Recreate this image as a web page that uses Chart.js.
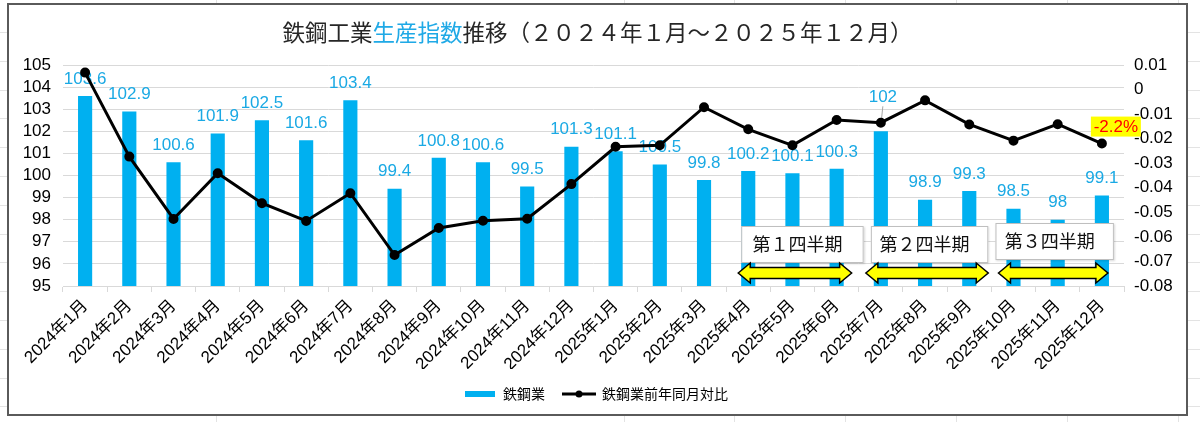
<!DOCTYPE html>
<html lang="ja">
<head>
<meta charset="utf-8">
<title>鉄鋼工業生産指数推移</title>
<script src="https://cdn.jsdelivr.net/npm/chart.js@4.4.1/dist/chart.umd.min.js"></script>
<style>
  html, body { margin: 0; padding: 0; background: #fff; }
  #wrap { position: relative; width: 1200px; height: 422px; }
</style>
</head>
<body>
<div id="wrap"><canvas id="steelChart" width="1200" height="422"></canvas></div>
<script>
// data
const months = [
  '2024年1月', '2024年2月', '2024年3月', '2024年4月', '2024年5月', '2024年6月',
  '2024年7月', '2024年8月', '2024年9月', '2024年10月', '2024年11月', '2024年12月',
  '2025年1月', '2025年2月', '2025年3月', '2025年4月', '2025年5月', '2025年6月',
  '2025年7月', '2025年8月', '2025年9月', '2025年10月', '2025年11月', '2025年12月'
];
const steelIndex = [
  103.6, 102.9, 100.6, 101.9, 102.5, 101.6, 103.4, 99.4, 100.8, 100.6, 99.5, 101.3,
  101.1, 100.5, 99.8, 100.2, 100.1, 100.3, 102, 98.9, 99.3, 98.5, 98, 99.1
];
const yoyChange = [
  0.0069, -0.0273, -0.0527, -0.0341, -0.0463, -0.0535, -0.0422, -0.0674, -0.0564, -0.0534, -0.0526, -0.0385,
  -0.0233, -0.0227, -0.0072, -0.0162, -0.0227, -0.0124, -0.0135, -0.0044, -0.0142, -0.0208, -0.0141, -0.022
];
const quarterLabels = ['第１四半期', '第２四半期', '第３四半期'];
const quarterFirst = ['2025年4月', '2025年7月', '2025年10月'];
const quarterLast = ['2025年6月', '2025年9月', '2025年12月'];
const titleParts = ['鉄鋼工業', '生産指数', '推移（２０２４年１月～２０２５年１２月）'];
const seriesNames = ['鉄鋼業', '鉄鋼業前年同月対比'];

const BAR_BLUE = '#00b0f0';
const LABEL_BLUE = '#1aa9e4';
const GRID = '#d9d9d9';
const NUM_FONT = '"Liberation Sans", Arial, sans-serif';
const JP_FONT = '"Noto Sans CJK JP", "Noto Sans", sans-serif';

Chart.defaults.font.family = '"Liberation Sans", "Noto Sans CJK JP", sans-serif';
Chart.defaults.color = '#1a1a1a';

// frame of the chart object plus the faint spreadsheet cells behind it
const FRAME = { left: 8, top: 4, right: 1187, bottom: 415 };

const sheetPlugin = {
  id: 'sheet',
  beforeDraw(chart) {
    const ctx = chart.ctx;
    ctx.save();
    ctx.fillStyle = '#fff';
    ctx.fillRect(0, 0, chart.width, chart.height);
    ctx.strokeStyle = '#e3e3e3';
    ctx.lineWidth = 1;
    [216, 624, 734, 845, 956, 1067, 1178].forEach(x => {
      ctx.beginPath(); ctx.moveTo(x + 0.5, 0); ctx.lineTo(x + 0.5, chart.height); ctx.stroke();
    });
    for (let y = 32; y < chart.height; y += 28.8) {
      ctx.beginPath(); ctx.moveTo(0, Math.round(y) + 0.5); ctx.lineTo(chart.width, Math.round(y) + 0.5); ctx.stroke();
    }
    ctx.fillStyle = '#fff';
    ctx.fillRect(FRAME.left, FRAME.top, FRAME.right - FRAME.left, FRAME.bottom - FRAME.top);
    ctx.strokeStyle = '#5a5a5a';
    ctx.lineWidth = 2;
    ctx.strokeRect(FRAME.left, FRAME.top, FRAME.right - FRAME.left, FRAME.bottom - FRAME.top);

    // title, the middle part in blue
    ctx.font = '22.5px ' + JP_FONT;
    ctx.textBaseline = 'middle';
    ctx.textAlign = 'left';
    const colors = ['#262626', '#1fa9e6', '#262626'];
    const total = titleParts.reduce((w, t) => w + ctx.measureText(t).width, 0);
    let x = (FRAME.left + FRAME.right) / 2 - total / 2;
    titleParts.forEach((t, i) => {
      ctx.fillStyle = colors[i];
      ctx.fillText(t, x, 32);
      x += ctx.measureText(t).width;
    });
    ctx.restore();
  }
};

// value labels above the bars, drawn before the line so the line crosses them
const barLabelPlugin = {
  id: 'barLabels',
  afterDatasetDraw(chart, args) {
    if (args.meta.type !== 'bar') return;
    const ctx = chart.ctx;
    ctx.save();
    ctx.font = '17px ' + NUM_FONT;
    ctx.fillStyle = LABEL_BLUE;
    ctx.textAlign = 'center';
    ctx.textBaseline = 'middle';
    args.meta.data.forEach((bar, i) => {
      const lifted = i === 18;
      const y = bar.y - (lifted ? 34 : 17);
      ctx.fillText(String(steelIndex[i]), bar.x + (lifted ? 2 : 0), y);
      if (lifted) {
        ctx.strokeStyle = '#a6a6a6';
        ctx.lineWidth = 1;
        ctx.beginPath();
        ctx.moveTo(bar.x + 2, y + 9);
        ctx.lineTo(bar.x, bar.y - 6);
        ctx.stroke();
      }
    });
    ctx.restore();
  }
};

function doubleArrow(ctx, x0, x1, cy) {
  const hl = 12, hh = 10, sh = 5.5;
  ctx.beginPath();
  ctx.moveTo(x0, cy);
  ctx.lineTo(x0 + hl, cy - hh);
  ctx.lineTo(x0 + hl, cy - sh);
  ctx.lineTo(x1 - hl, cy - sh);
  ctx.lineTo(x1 - hl, cy - hh);
  ctx.lineTo(x1, cy);
  ctx.lineTo(x1 - hl, cy + hh);
  ctx.lineTo(x1 - hl, cy + sh);
  ctx.lineTo(x0 + hl, cy + sh);
  ctx.lineTo(x0 + hl, cy + hh);
  ctx.closePath();
  ctx.fillStyle = '#ffff00';
  ctx.fill();
  ctx.strokeStyle = '#000';
  ctx.lineWidth = 1.5;
  ctx.stroke();
}

// quarter boxes with arrows, and the callout on the last point
const notePlugin = {
  id: 'notes',
  afterDatasetsDraw(chart) {
    const ctx = chart.ctx;
    const xs = chart.scales.x;
    const bottom = chart.chartArea.bottom;
    const boxPad = [[-7, 27], [-10, 19], [-18, 12]];
    const boxLift = [0, 0, 3];
    const arrowPad = [[-10, 15], [-15, 19], [-15, 6]];
    ctx.save();
    quarterLabels.forEach((label, k) => {
      const a = xs.getPixelForValue(months.indexOf(quarterFirst[k]));
      const b = xs.getPixelForValue(months.indexOf(quarterLast[k]));
      const bx0 = a + boxPad[k][0], bx1 = b + boxPad[k][1];
      const by1 = bottom - 23 - boxLift[k], by0 = by1 - 37;
      ctx.shadowColor = 'rgba(0,0,0,0.15)';
      ctx.shadowOffsetX = 1;
      ctx.shadowOffsetY = 1;
      ctx.shadowBlur = 2;
      ctx.fillStyle = '#fff';
      ctx.fillRect(bx0, by0, bx1 - bx0, by1 - by0);
      ctx.shadowColor = 'transparent';
      ctx.strokeStyle = '#bfbfbf';
      ctx.lineWidth = 1;
      ctx.strokeRect(bx0 + 0.5, by0 + 0.5, bx1 - bx0 - 1, by1 - by0 - 1);
      ctx.fillStyle = '#111';
      ctx.font = '18px ' + JP_FONT;
      ctx.textAlign = 'center';
      ctx.textBaseline = 'middle';
      ctx.fillText(label, (bx0 + bx1) / 2 - 5, (by0 + by1) / 2);
      doubleArrow(ctx, a + arrowPad[k][0], b + arrowPad[k][1], bottom - 13);
    });

    const lineMeta = chart.getDatasetMeta(1);
    const last = lineMeta.data[lineMeta.data.length - 1];
    const cx = last.x + 14, cy = last.y - 17;
    ctx.fillStyle = '#ffff00';
    ctx.fillRect(cx - 25, cy - 10, 50, 20);
    ctx.fillStyle = '#ff0000';
    ctx.font = '17px ' + NUM_FONT;
    ctx.textAlign = 'center';
    ctx.textBaseline = 'middle';
    ctx.fillText((yoyChange[yoyChange.length - 1] * 100).toFixed(1) + '%', cx, cy + 1);
    ctx.restore();
  }
};

function swatch(kind) {
  const c = document.createElement('canvas');
  c.width = kind === 'bar' ? 30 : 34;
  c.height = 10;
  const g = c.getContext('2d');
  if (kind === 'bar') {
    g.fillStyle = BAR_BLUE;
    g.fillRect(0, 2, 30, 6);
  } else {
    g.strokeStyle = '#000';
    g.lineWidth = 3;
    g.beginPath(); g.moveTo(0, 5); g.lineTo(34, 5); g.stroke();
    g.fillStyle = '#000';
    g.beginPath(); g.arc(17, 5, 3.5, 0, Math.PI * 2); g.fill();
  }
  return c;
}

const ctx = document.getElementById('steelChart').getContext('2d');
new Chart(ctx, {
  data: {
    labels: months,
    datasets: [
      {
        type: 'bar',
        label: seriesNames[0],
        data: steelIndex,
        backgroundColor: BAR_BLUE,
        barPercentage: 0.32,
        categoryPercentage: 1,
        yAxisID: 'y',
        order: 1
      },
      {
        type: 'line',
        label: seriesNames[1],
        data: yoyChange,
        borderColor: '#000',
        borderWidth: 3,
        pointRadius: 3.5,
        pointBackgroundColor: '#000',
        pointBorderColor: '#000',
        tension: 0,
        yAxisID: 'y2',
        order: 0
      }
    ]
  },
  options: {
    responsive: false,
    animation: false,
    layout: { padding: { top: 65, left: 8, right: 16, bottom: 11 } },
    plugins: {
      title: { display: false },
      tooltip: { enabled: false },
      legend: {
        position: 'bottom',
        labels: {
          usePointStyle: true,
          pointStyleWidth: 32,
          padding: 18,
          color: '#1a1a1a',
          font: { size: 14, family: JP_FONT },
          generateLabels: () => [
            { text: seriesNames[0], pointStyle: swatch('bar'), datasetIndex: 0, lineWidth: 0, hidden: false },
            { text: seriesNames[1], pointStyle: swatch('line'), datasetIndex: 1, lineWidth: 0, hidden: false }
          ]
        }
      }
    },
    scales: {
      x: {
        afterFit: s => { s.height = 83; },
        grid: { offset: true, drawOnChartArea: false, color: GRID, tickLength: 6 },
        border: { color: GRID },
        ticks: { autoSkip: false, minRotation: 45, maxRotation: 45, padding: 4, color: '#000', font: { size: 17 } }
      },
      y: {
        position: 'left',
        min: 95,
        max: 105,
        afterFit: s => { s.width = 55; },
        grid: { color: GRID, drawTicks: false },
        border: { display: false },
        ticks: { stepSize: 1, autoSkip: false, padding: 12, color: '#000', font: { size: 17, family: NUM_FONT } }
      },
      y2: {
        position: 'right',
        min: -0.08,
        max: 0.01,
        afterFit: s => { s.width = 60; },
        grid: { drawOnChartArea: false, drawTicks: false },
        border: { display: false },
        ticks: {
          stepSize: 0.01,
          autoSkip: false,
          padding: 10,
          color: '#000',
          font: { size: 17, family: NUM_FONT },
          callback: v => String(Math.round(v * 100) / 100)
        }
      }
    }
  },
  plugins: [sheetPlugin, barLabelPlugin, notePlugin]
});
</script>
</body>
</html>
